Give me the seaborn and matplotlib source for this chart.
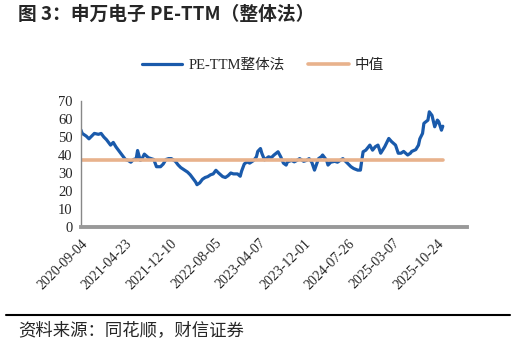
import numpy as np
import pandas as pd
import matplotlib
matplotlib.use('Agg')
import matplotlib.pyplot as plt
import seaborn as sns

# category index of each read point (about weekly)
week_no = [0, 1, 4, 6, 8, 10, 13, 15, 17, 19, 22, 24, 26, 28, 30, 33, 35, 37, 39, 41,
           42, 44, 45, 47, 50, 52, 54, 56, 59, 61, 63, 65, 67, 70, 72, 74, 76, 79, 81, 83,
           85, 86, 88, 90, 92, 94, 96, 98, 100, 102, 105, 107, 109, 111, 113, 116, 118, 119, 121, 123,
           125, 128, 130, 131, 133, 134, 136, 139, 141, 143, 146, 148, 150, 152, 153, 156, 158, 160, 162, 165,
           167, 169, 171, 173, 176, 178, 179, 182, 183, 185, 188, 190, 192, 194, 196, 198, 200, 202, 205, 207,
           208, 209, 211, 214, 216, 218, 220, 222, 225, 228, 230, 233, 235, 237, 239, 242, 244, 245, 248, 250,
           251, 253, 254, 257, 258, 260, 262, 264, 265, 267, 268]
pe_ttm = [54, 52, 50.5, 49, 50.5, 52, 51.5, 52, 50, 48.5, 45.5, 47, 44.5, 42.5, 40.5, 37.5, 37, 36, 37.5, 38,
          42.5, 37, 37.5, 40.5, 38.5, 38, 37.5, 33.5, 33.5, 35, 37.5, 38, 38, 36.5, 34.5, 33, 32, 30.5, 29, 27,
          25, 23.5, 24.5, 26.5, 27.5, 28, 29, 29.5, 31.5, 30, 28, 27.5, 28.5, 30, 29.5, 29.5, 28.2, 31, 35, 36.2,
          35.5, 37, 39, 42, 43.6, 41, 37.3, 39, 38.5, 40, 41.8, 39, 35.5, 34.4, 36.2, 37, 36.2, 37, 38, 36.5,
          37, 38, 36, 31.6, 38, 39, 40, 37, 34.4, 36, 36.5, 36, 37, 38, 36.5, 35, 33.5, 32.5, 31.6, 31.6,
          37, 41.8, 42.7, 45.5, 42.7, 44.6, 45.5, 41, 44.6, 49.2, 47.5, 45.5, 41, 41, 42, 40, 41, 42, 43, 45.5,
          49, 52, 57.6, 59.4, 64, 62, 55.7, 59.4, 58.5, 53.8, 56]
median_pe = 37.5

x_labels = ['2020-09-04', '2021-04-23', '2021-12-10', '2022-08-05', '2023-04-07',
            '2023-12-01', '2024-07-26', '2025-03-07', '2025-10-24']
label_step = 33

sns.set_style('white')
plt.rcParams['font.family'] = ['Liberation Serif', 'Noto Sans CJK SC']

df = pd.DataFrame({'week': week_no, 'pe': pe_ttm})
df['median'] = median_pe

fig = plt.figure(figsize=(5.15, 3.46), dpi=100)
ax = fig.add_axes([0.157, 0.344, 0.75, 0.364])

sns.lineplot(data=df, x='week', y='pe', color='#1a5aab', lw=2.3, ax=ax, label='PE-TTM整体法')
sns.lineplot(data=df, x='week', y='median', color='#e8b28c', lw=2.6, ax=ax, label='中值')

ax.set_xlim(0, 286)
ax.set_ylim(0, 70)
ax.set_yticks(range(0, 71, 10))
ticks = [i * label_step for i in range(len(x_labels))]
ax.set_xticks(ticks)
ax.set_xticklabels(x_labels, rotation=45, ha='right', rotation_mode='anchor', fontsize=10)
ax.tick_params(axis='x', length=0, pad=7)
ax.tick_params(axis='y', direction='out', length=4, width=1, color='#888888', labelsize=10.5, pad=2)
ax.set_xlabel('')
ax.set_ylabel('')

for s in ['top', 'right']:
    ax.spines[s].set_visible(False)
ax.spines['left'].set_color('#888888')
ax.spines['left'].set_linewidth(1)
ax.spines['bottom'].set_color('#999999')
ax.spines['bottom'].set_linewidth(2.8)

handles, labels = ax.get_legend_handles_labels()
ax.get_legend().remove()
fig.legend(handles, labels, loc='center', bbox_to_anchor=(0.51, 0.812), ncol=2, frameon=False,
           handlelength=2.8, columnspacing=1.6, handletextpad=0.4, fontsize=10.5)

fig.text(0.035, 0.958, '图 3：申万电子 PE-TTM（整体法）', fontsize=13.5, fontweight='bold',
         family=['Noto Sans CJK SC', 'DejaVu Sans'], va='center', ha='left')
fig.add_artist(plt.Line2D([0.012, 0.99], [0.0896, 0.0896], color='black', lw=1.5))
fig.text(0.035, 0.045, '资料来源：同花顺，财信证券', fontsize=12.5, style='italic',
         family=['Noto Sans CJK SC', 'DejaVu Sans'], va='center', ha='left')

fig.savefig('out.png', dpi=100)
